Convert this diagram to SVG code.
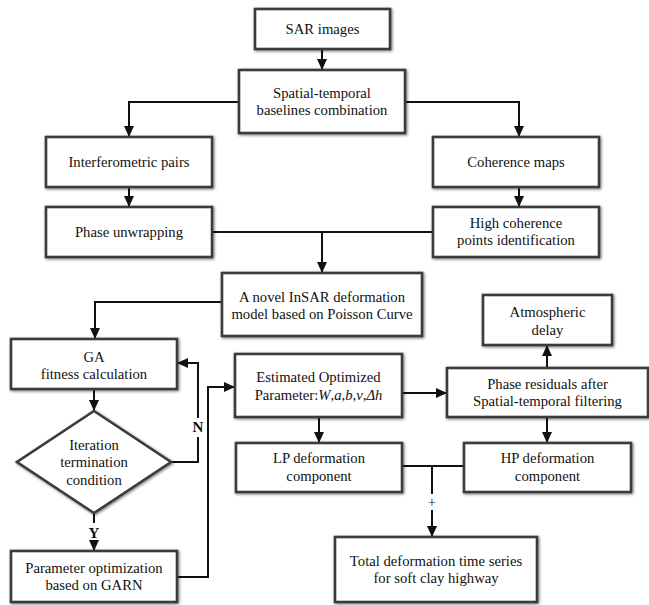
<svg xmlns="http://www.w3.org/2000/svg" width="649" height="605" viewBox="0 0 649 605">
<style>
.box{fill:#fff;stroke:#3a3a3a;stroke-width:2.6;filter:url(#sh)}
.t{font-family:"Liberation Serif","Times New Roman",serif;font-size:14.7px;fill:#111;text-anchor:middle}
.lbl{font-family:"Liberation Serif","Times New Roman",serif;font-size:15px;font-weight:bold;fill:#111;text-anchor:middle}
.ln{fill:none;stroke:#111;stroke-width:2}
.ar{fill:none;stroke:#111;stroke-width:2;marker-end:url(#ah)}
</style>
<defs>
<filter id="sh" x="-10%" y="-20%" width="120%" height="140%">
<feGaussianBlur in="SourceAlpha" stdDeviation="1.6"/>
<feOffset dx="1" dy="1" result="b"/>
<feComponentTransfer><feFuncA type="linear" slope="0.55"/></feComponentTransfer>
<feMerge><feMergeNode/><feMergeNode in="SourceGraphic"/></feMerge>
</filter>
<marker id="ah" markerUnits="userSpaceOnUse" markerWidth="12" markerHeight="12" viewBox="0 0 12 12" refX="11" refY="6" orient="auto">
<path d="M0,1 L11,6 L0,11 Z" fill="#111"/>
</marker>
</defs>
<rect width="649" height="605" fill="#fff"/>

<g id="connectors">
<path class="ar" d="M322,49 V70"/>
<path class="ar" d="M239,102 H129 V137"/>
<path class="ar" d="M405,102 H519 V137"/>
<path class="ar" d="M129,187 V207"/>
<path class="ar" d="M519,187 V207"/>
<path class="ln" d="M212,232 H433"/>
<path class="ar" d="M322,232 V273"/>
<path class="ar" d="M222,302 H95 V339"/>
<path class="ar" d="M94,389 V411"/>
<path class="ln" d="M171,462 H198 V437"/>
<path class="ar" d="M198,418 V363 H177"/>
<path class="ln" d="M94,513 V523"/>
<path class="ar" d="M94,543 V551"/>
<path class="ar" d="M177,577 H208 V387 H235"/>
<path class="ar" d="M402,393 H447"/>
<path class="ar" d="M547,368 V345"/>
<path class="ar" d="M319,417 V443"/>
<path class="ar" d="M547,417 V443"/>
<path class="ln" d="M402,466 H464"/>
<path class="ln" d="M432,466 V494"/>
<path class="ar" d="M432,510 V537"/>
<text class="lbl" x="198" y="432">N</text>
<text class="lbl" x="94" y="538">Y</text>
<text class="t" x="432" y="507">+</text>
</g>

<g id="sar"><rect class="box" x="255" y="9" width="135" height="40"/><text class="t" x="322.5" y="34">SAR images</text></g>
<g id="spatial"><rect class="box" x="239" y="70" width="166" height="63"/><text class="t" x="322" y="98">Spatial-temporal</text><text class="t" x="322" y="115">baselines combination</text></g>
<g id="interf"><rect class="box" x="46" y="137" width="166" height="50"/><text class="t" x="129" y="167">Interferometric pairs</text></g>
<g id="coherence"><rect class="box" x="433" y="137" width="166" height="50"/><text class="t" x="516" y="167">Coherence maps</text></g>
<g id="unwrap"><rect class="box" x="46" y="207" width="166" height="50"/><text class="t" x="129" y="237">Phase unwrapping</text></g>
<g id="highcoh"><rect class="box" x="433" y="207" width="166" height="50"/><text class="t" x="516" y="228">High coherence</text><text class="t" x="516" y="245">points identification</text></g>
<g id="novel"><rect class="box" x="222" y="273" width="200" height="63"/><text class="t" x="322" y="302">A novel InSAR deformation</text><text class="t" x="322" y="319">model based on Poisson Curve</text></g>
<g id="ga"><rect class="box" x="11" y="339" width="166" height="50"/><text class="t" x="94" y="362">GA</text><text class="t" x="94" y="379">fitness calculation</text></g>
<g id="atmos"><rect class="box" x="483" y="295" width="129" height="50"/><text class="t" x="547.5" y="317">Atmospheric</text><text class="t" x="547.5" y="335">delay</text></g>
<g id="estimated"><rect class="box" x="235" y="354" width="167" height="63"/><text class="t" x="318.5" y="382">Estimated Optimized</text><text class="t" x="318.5" y="400">Parameter:<tspan font-style="italic">W</tspan>,<tspan font-style="italic">a</tspan>,<tspan font-style="italic">b</tspan>,<tspan font-style="italic">v</tspan>,<tspan font-style="italic">Δh</tspan></text></g>
<g id="residuals"><rect class="box" x="447" y="368" width="201" height="49"/><text class="t" x="547.5" y="389">Phase residuals after</text><text class="t" x="547.5" y="406">Spatial-temporal filtering</text></g>
<g id="iteration"><polygon class="box" points="94,411 171,462 94,513 17,462"/><text class="t" x="94" y="450">Iteration</text><text class="t" x="94" y="467">termination</text><text class="t" x="94" y="485">condition</text></g>
<g id="lp"><rect class="box" x="236" y="443" width="166" height="49"/><text class="t" x="319" y="463">LP deformation</text><text class="t" x="319" y="481">component</text></g>
<g id="hp"><rect class="box" x="464" y="443" width="167" height="49"/><text class="t" x="547.5" y="463">HP deformation</text><text class="t" x="547.5" y="481">component</text></g>
<g id="paramopt"><rect class="box" x="11" y="551" width="166" height="51"/><text class="t" x="94" y="573">Parameter optimization</text><text class="t" x="94" y="590">based on GARN</text></g>
<g id="total"><rect class="box" x="335" y="537" width="202" height="65"/><text class="t" x="436" y="566">Total deformation time series</text><text class="t" x="436" y="583">for soft clay highway</text></g>
</svg>
